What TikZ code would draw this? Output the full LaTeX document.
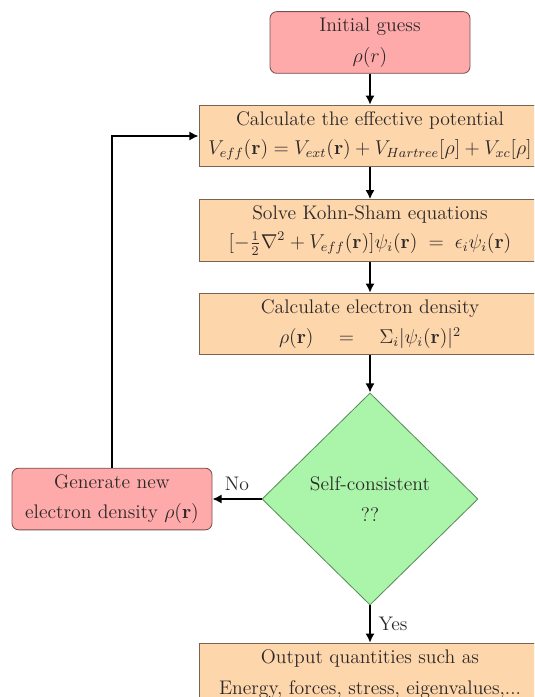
\documentclass[tikz,border=0pt]{standalone}
\usetikzlibrary{arrows.meta,shapes.geometric}
\definecolor{peach}{RGB}{253,214,172}
\definecolor{peachline}{RGB}{120,100,80}
\definecolor{pinkred}{RGB}{255,170,170}
\definecolor{pinkline}{RGB}{120,80,80}
\definecolor{lgreen}{RGB}{170,245,170}
\definecolor{gline}{RGB}{90,140,90}
\definecolor{txt}{RGB}{45,40,40}
\begin{document}
\begin{tikzpicture}[x=0.6pt,y=-0.6pt,
  every node/.style={text=txt, font=\fontsize{11.8}{14}\selectfont},
  procbox/.style={rectangle, draw=peachline, line width=0.5pt, fill=peach, minimum width=205.2pt, minimum height=37pt, inner sep=0pt, align=center},
  redbox/.style={rectangle, rounded corners=4pt, draw=pinkline, line width=0.5pt, fill=pinkred, minimum width=120pt, minimum height=37pt, inner sep=0pt, align=center},
  decision/.style={diamond, draw=gline, line width=0.5pt, fill=lgreen, minimum width=129.6pt, minimum height=127.2pt, inner sep=0pt, align=center},
  arr/.style={draw=black, line width=1.6pt, -{Latex[length=5.5pt,width=5.5pt]}}
]
\useasboundingbox (0,0) rectangle (534,697);
\clip (0,0) rectangle (534,697);
\fill[white] (0,0) rectangle (534,697);

\node[redbox] (init) at (370,42.5) {Initial guess\\[4.5pt] $\rho(r)$};
\node[procbox] (eff) at (370,136) {Calculate the effective potential\\[3pt] $V_{eff}(\mathbf{r}) = V_{ext}(\mathbf{r}) + V_{Hartree}[\rho] + V_{xc}[\rho]$};
\node[procbox] (ks) at (370,230.5) {Solve Kohn-Sham equations\\[3pt] $[-\frac{1}{2}\nabla^2 + V_{eff}(\mathbf{r})]\psi_i(\mathbf{r}) \;=\; \epsilon_i\psi_i(\mathbf{r})$};
\node[procbox] (dens) at (370,324) {Calculate electron density\\[4.5pt] $\rho(\mathbf{r}) \quad=\quad \Sigma_i|\psi_i(\mathbf{r})|^2$};
\node[decision] (dec) at (370,499) {Self-consistent\\[4.5pt] ??};
\node[redbox] (gen) at (112,499) {Generate new\\[4pt] electron density $\rho(\mathbf{r})$};
\node[procbox] (out) at (370,674) {Output quantities such as\\[4.5pt] Energy, forces, stress, eigenvalues,...};

\draw[arr] (init) -- (eff);
\draw[arr] (eff) -- (ks);
\draw[arr] (ks) -- (dens);
\draw[arr] (dens) -- (dec);
\draw[arr] (dec) -- node[above=1pt]{No} (gen);
\draw[arr] (dec) -- node[right=1pt]{Yes} (out);
\draw[arr] (gen.north) |- (eff.west);
\end{tikzpicture}
\end{document}
